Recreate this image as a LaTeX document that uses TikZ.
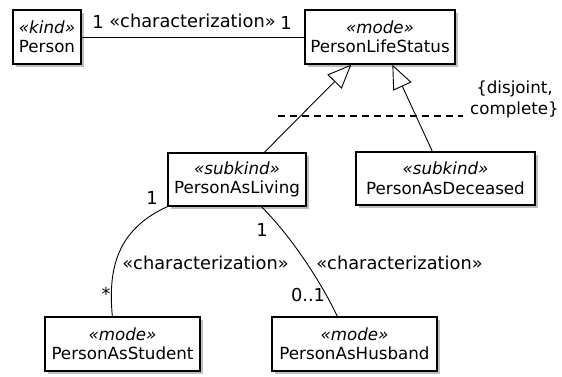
\documentclass[tikz,border=0pt]{standalone}
\usepackage{fontspec}
\setmainfont{DejaVu Sans}
\usetikzlibrary{arrows.meta,shadows,calc}
\begin{document}
\begin{tikzpicture}[x=1pt,y=-1pt,
  txt/.style={font=\fontsize{16.7}{19.5}\selectfont},
  cls/.style={txt, draw, line width=1.3pt, fill=white, align=center, inner sep=0pt,
    drop shadow={shadow xshift=3pt, shadow yshift=-3pt, opacity=0.45, fill=black!55}},
  lbl/.style={font=\fontsize{17.8}{20}\selectfont, inner sep=0pt},
  note/.style={font=\fontsize{16.7}{21}\selectfont, inner sep=0pt, align=center},
  assoc/.style={line width=0.9pt},
  gen/.style={line width=0.9pt, -{Triangle[length=24pt,width=20pt,fill=white,line width=0.9pt]}},
]
\useasboundingbox (0,0) rectangle (562,376);
\fill[white] (0,0) rectangle (562,376);

\node[cls, minimum width=68pt, minimum height=54pt] (person) at (47,37) {\textit{«kind»}\\Person};
\node[cls, minimum width=150pt, minimum height=54pt] (pls) at (380,37) {\textit{«mode»}\\PersonLifeStatus};
\node[cls, minimum width=138pt, minimum height=53pt] (pal) at (237,179.5) {\textit{«subkind»}\\PersonAsLiving};
\node[cls, minimum width=179pt, minimum height=53pt] (pad) at (445.5,178.5) {\textit{«subkind»}\\PersonAsDeceased};
\node[cls, minimum width=155pt, minimum height=54pt] (pas) at (122.5,344) {\textit{«mode»}\\PersonAsStudent};
\node[cls, minimum width=165pt, minimum height=54pt] (pah) at (354.5,344) {\textit{«mode»}\\PersonAsHusband};

% association Person -- PersonLifeStatus
\draw[assoc] (person.east) -- (pls.west);
\node[lbl] (m1) at (98,22) {1};
\node[lbl] (c1) at (192.5,21) {«characterization»};
\node[lbl] (m2) at (286,23) {1};

% generalizations
\draw[gen] ([xshift=97pt]pal.north west) -- ([xshift=47pt]pls.south west);
\draw[gen] ([xshift=77pt]pad.north west) -- ([xshift=88pt]pls.south west);

% generalization set
\coordinate (d1) at (278,116);
\coordinate (d2) at (463,116);
\draw[line width=1.6pt, dash pattern=on 7pt off 5pt] (d1) -- (d2);
\node[note] (gs) at (514.5,99) {\{disjoint,\\complete\}};

% characterizations from PersonAsLiving
\draw[assoc] (pal.south west) .. controls (116,230) and (108,270) .. ([xshift=68pt]pas.north west);
\node[lbl] (m3) at (152,198) {1};
\node[lbl] (m4) at (106,294) {*};
\node[lbl] (c2) at (205.5,263) {«characterization»};

\draw[assoc] ([xshift=94pt]pal.south west) .. controls (290,235) and (320,280) .. ([xshift=66pt]pah.north west);
\node[lbl] (m5) at (262,230) {1};
\node[lbl] (m6) at (308,295) {0..1};
\node[lbl] (c3) at (399.5,263) {«characterization»};
\end{tikzpicture}
\end{document}
